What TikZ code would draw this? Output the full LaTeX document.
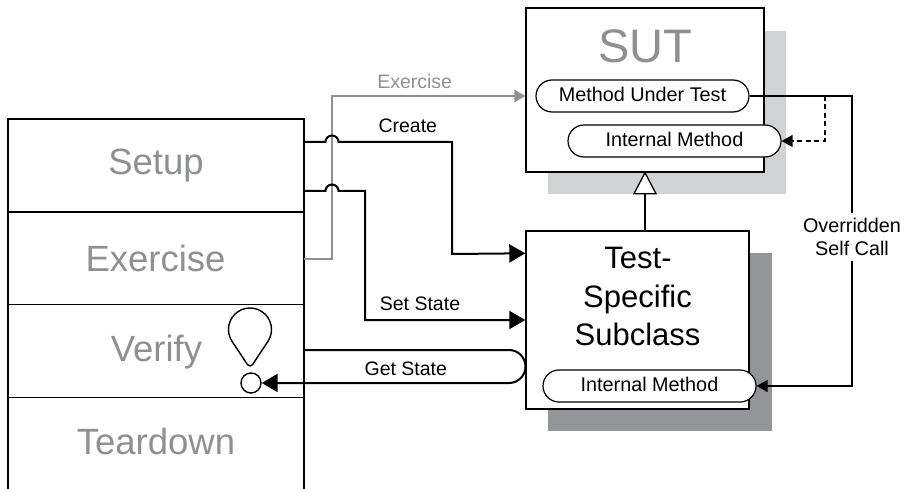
\documentclass[tikz,border=0pt]{standalone}
\usepackage{fontspec}
\setmainfont{Liberation Sans}
\usetikzlibrary{arrows.meta,calc}
\definecolor{txtgray}{HTML}{8E9093}
\definecolor{lightshadow}{HTML}{D1D2D4}
\definecolor{darkshadow}{HTML}{939598}
\begin{document}
\begin{tikzpicture}[x=1pt,y=1pt,
  phase/.style={font=\fontsize{36.5}{40}\selectfont, text=txtgray, anchor=base, inner sep=0pt},
  lbl/.style={font=\fontsize{19.5}{23}\selectfont, anchor=base, inner sep=0pt},
  methodbox/.style={draw, line width=1.2pt, fill=white, rounded corners=16pt,
     minimum height=32pt, minimum width=213pt, inner sep=0pt,
     text height=12.5pt, text depth=2pt, font=\fontsize{19.8}{23}\selectfont},
  classbox/.style={draw, line width=1.4pt, fill=white, inner sep=0pt},
  subtext/.style={font=\fontsize{31}{36}\selectfont, anchor=base, inner sep=0pt},
  outline/.style={line width=1.4pt},
  flow/.style={line width=2pt},
  thin/.style={line width=1.3pt},
  bigtip/.style={-{Triangle[length=16pt,width=18pt]}},
  smalltip/.style={-{Triangle[length=11pt,width=12pt]}},
]
\useasboundingbox (0,0) rectangle (905,-489);

% ---- left test phases ----
\node[phase] (setup)    at (156,-175)   {Setup};
\node[phase] (exercise) at (155.5,-271.5) {Exercise};
\node[phase] (verify)   at (156.5,-361.5) {Verify};
\node[phase] (teardown) at (156,-454)   {Teardown};
\draw[outline] (8,-489) -- (8,-119) -- (304,-119) -- (304,-489);
\draw[outline] (8,-212) -- (304,-212);
\draw[outline] (8,-304.3) -- (304,-304.3);
\draw[outline] (8,-397.5) -- (304,-397.5);

% ---- shadows ----
\fill[lightshadow] (548,-31) rectangle (786,-194);
\fill[darkshadow] (548,-253) rectangle (772,-431);

% ---- SUT ----
\node[classbox, minimum width=238pt, minimum height=164pt] (sut) at (645,-90) {};
\node[anchor=base, text=txtgray, font=\fontsize{47}{50}\selectfont, inner sep=0pt] (suttitle) at (645.5,-62.5) {SUT};
\node[methodbox] (mut) at (642.5,-96) {Method Under Test};
\node[methodbox] (im1) at (674.5,-141) {Internal Method};

% ---- Test-Specific Subclass ----
\node[classbox, minimum width=223pt, minimum height=178pt] (sub) at (637.5,-320) {};
\node[subtext] (subA) at (638,-268.3) {Test-};
\node[subtext] (subB) at (637.5,-307) {Specific};
\node[subtext] (subC) at (637.5,-345.7) {Subclass};
\node[methodbox] (im2) at (649.5,-386) {Internal Method};

% ---- inheritance ----
\coordinate (tribase) at ($(sut.south)+(0,-21)$);
\draw[thin] (tribase) -- (sut.south |- sub.north);
\draw[thin, fill=white, line join=miter] (sut.south) -- ($(tribase)+(-11,0)$) -- ($(tribase)+(11,0)$) -- cycle;

% ---- connector start points ----
\coordinate (cS) at (304,-142);
\coordinate (sS) at (304,-191);
\coordinate (eS) at (304,-259);
\coordinate (gS) at (304,-350);
\coordinate (cE) at ($(sub.north west)+(0,-23)$);

% ---- Exercise (gray) ----
\draw[thin, -{Triangle[length=11pt,width=12.5pt]}, color=txtgray]
  (eS) -- (332,-259) -- (332,-96) -- (sut.west |- mut.west);
\node[lbl, text=txtgray] (exlbl) at (414.7,-88.3) {Exercise};

% ---- Create ----
\draw[flow, bigtip] (cS) -- (325.5,-142) arc[start angle=180, end angle=0, radius=6.5]
  -- (452,-142) -- (452,-254) -- (cE);
\node[lbl] (crlbl) at (407.8,-132.7) {Create};

% ---- Set State ----
\draw[flow, bigtip] (sS) -- (325.5,-191) arc[start angle=180, end angle=0, radius=6.5]
  -- (365,-191) -- (365,-320) -- (sub.west);
\node[lbl] (sslbl) at (420,-310) {Set State};

% ---- Verify bulb and Get State ----
\draw[outline, line join=round] ($(250,-329.5)+(-33.5:21.5)$)
  arc[start angle=-33.5, end angle=213.5, radius=21.5]
  -- ($(250,-363)+(213.5:3)$)
  arc[start angle=213.5, end angle=326.5, radius=3] -- cycle;
\node[circle, draw, line width=1.4pt, minimum size=20pt, inner sep=0pt] (dot) at (251,-383) {};
\draw[flow, bigtip] (gS) -- (509,-350) arc[start angle=90, end angle=-90, radius=16.5] -- (dot.east);
\node[lbl] (gslbl) at (405.8,-375) {Get State};

% ---- self calls ----
\draw[thin, dash pattern=on 5pt off 3.5pt, smalltip] (825,-96) -- (825,-141) -- (im1.east);
\draw[thin, smalltip] (mut.east) -- (852,-96) -- (852,-386) -- (im2.east);
\node[fill=white, align=center, font=\fontsize{19.8}{23.3}\selectfont, inner xsep=2pt, inner ysep=5pt] (ovr) at (852,-237) {Overridden\\Self Call};
\end{tikzpicture}
\end{document}
